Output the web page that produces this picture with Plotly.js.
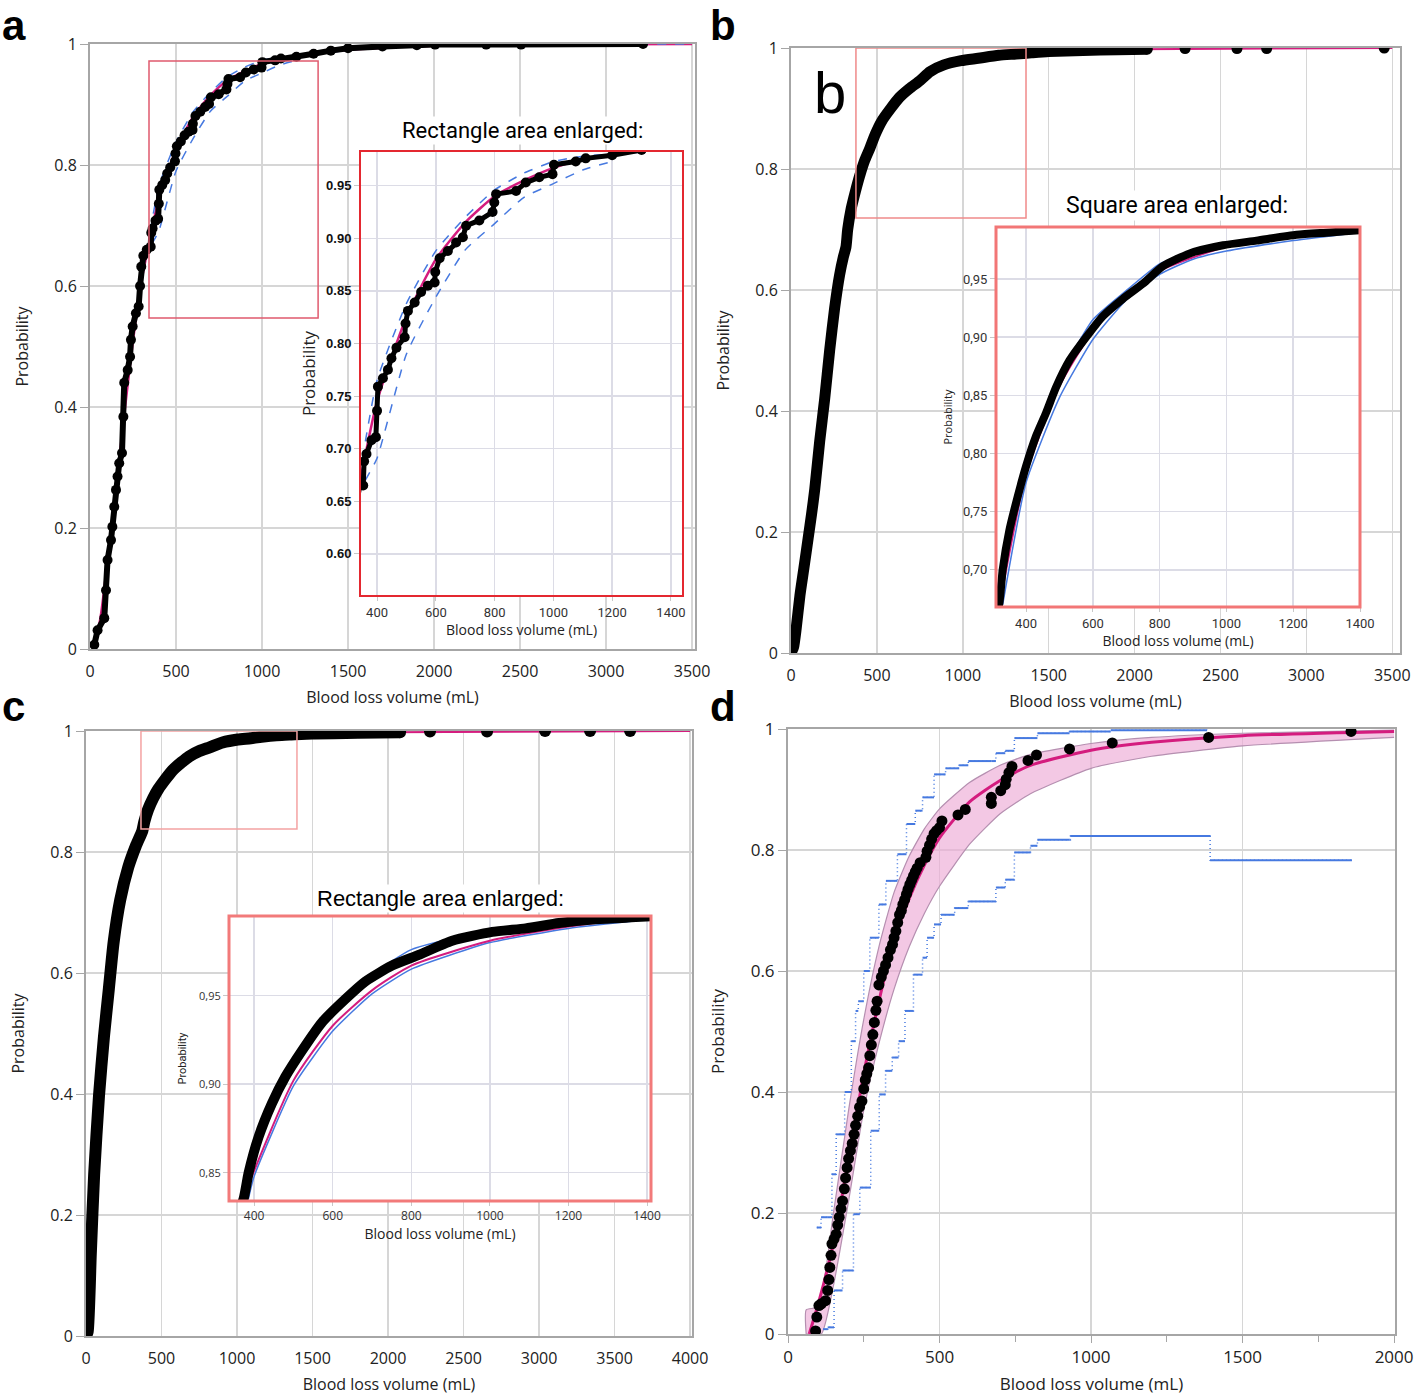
<!DOCTYPE html>
<html>
<head>
<meta charset="utf-8">
<script src="https://cdn.plot.ly/plotly-3.0.1.min.js"></script>
<style>
  body { margin: 0; background: #fff; }
  #chart { width: 1418px; height: 1400px; }
</style>
</head>
<body>
<div id="chart"></div>
<script>
// ---- tick labels ----
const probTicks = [0, 0.2, 0.4, 0.6, 0.8, 1];
const probLabels = ["0", "0.2", "0.4", "0.6", "0.8", "1"];
const insetXTicks = [400, 600, 800, 1000, 1200, 1400];
const aInsetYTicks = [0.60, 0.65, 0.70, 0.75, 0.80, 0.85, 0.90, 0.95];
const aInsetYLabels = ["0.60", "0.65", "0.70", "0.75", "0.80", "0.85", "0.90", "0.95"];
const bInsetYTicks = [0.70, 0.75, 0.80, 0.85, 0.90, 0.95];
const bInsetYLabels = ["0,70", "0,75", "0,80", "0,85", "0,90", "0,95"];
const cInsetYTicks = [0.85, 0.90, 0.95];
const cInsetYLabels = ["0,85", "0,90", "0,95"];

// ---- panel a ----
const aBlood = [25, 44, 83, 93, 102, 122, 130, 141, 151, 160, 170, 186, 194, 199, 219, 233, 238, 248, 267, 283,
  291, 298, 310, 330, 353, 356, 364, 381, 396, 400, 403, 420, 437, 449, 466, 494, 497, 505, 528, 550,
  573, 596, 598, 613, 641, 669, 692, 703, 748, 793, 799, 805, 873, 906, 952, 997, 1002, 1076, 1110, 1200,
  1300, 1400, 1500, 1700, 1900, 2006, 2303, 2506, 3215];
const aProb = [0.007, 0.031, 0.051, 0.097, 0.147, 0.18, 0.202, 0.235, 0.263, 0.285, 0.307, 0.324, 0.384, 0.44, 0.461, 0.483, 0.511, 0.533, 0.555, 0.566,
  0.60, 0.632, 0.65, 0.66, 0.665, 0.688, 0.695, 0.708, 0.711, 0.736, 0.759, 0.767, 0.775, 0.786, 0.796, 0.806, 0.819, 0.831, 0.839, 0.849,
  0.855, 0.858, 0.868, 0.881, 0.888, 0.896, 0.901, 0.912, 0.917, 0.925, 0.934, 0.942, 0.945, 0.953, 0.958, 0.961, 0.970, 0.973, 0.976, 0.979,
  0.984, 0.989, 0.993, 0.996, 0.998, 0.999, 0.999, 0.999, 1.0];
const aFitX = [20, 60, 100, 150, 200, 250, 300, 350, 400, 500, 600, 700, 800, 900, 1000, 1100, 1200, 1400, 1700, 2000, 2500, 3500];
const aFitP = [0, 0.05, 0.14, 0.26, 0.39, 0.51, 0.61, 0.68, 0.745, 0.825, 0.88, 0.915, 0.94, 0.955, 0.967, 0.975, 0.98, 0.988, 0.994, 0.997, 0.999, 1.0];
const aUpX = [350, 400, 500, 600, 700, 800, 900, 1000, 1100, 1300, 1500, 2000, 3500];
const aUpP = [0.69, 0.765, 0.838, 0.888, 0.92, 0.946, 0.962, 0.973, 0.978, 0.982, 0.99, 0.998, 1.0];
const aLoX = [360, 400, 500, 600, 700, 800, 900, 1000, 1100, 1200];
const aLoP = [0.67, 0.691, 0.79, 0.844, 0.889, 0.914, 0.939, 0.952, 0.965, 0.973];

// ---- panel b ----
const bBlood = [0, 15, 30, 52, 75, 100, 120, 138, 167, 196, 225, 254, 283, 305, 320, 330, 350, 375, 400, 430,
  460, 490, 530, 580, 630, 690, 750, 810, 890, 990, 1090, 1210, 1310, 1400, 1500, 1700, 1900, 2074, 2294, 2596,
  2769, 3453];
const bProb = [0, 0.01, 0.04, 0.095, 0.14, 0.19, 0.23, 0.27, 0.35, 0.42, 0.5, 0.57, 0.625, 0.655, 0.671, 0.70, 0.734, 0.763, 0.789, 0.815,
  0.835, 0.857, 0.880, 0.900, 0.918, 0.933, 0.946, 0.961, 0.972, 0.979, 0.983, 0.988, 0.990, 0.992, 0.994, 0.996, 0.997, 0.998, 0.999, 0.999,
  0.999, 1.0];
const bFitX = [0, 100, 200, 300, 320, 400, 500, 600, 700, 800, 1000, 1200, 1400, 2000, 3500];
const bFitP = [0, 0.18, 0.43, 0.63, 0.668, 0.782, 0.858, 0.905, 0.935, 0.957, 0.978, 0.988, 0.993, 0.998, 1.0];
const bUpX = [315, 400, 500, 600, 700, 800, 900, 1000, 1200, 1400];
const bUpP = [0.685, 0.797, 0.866, 0.915, 0.94, 0.963, 0.974, 0.98, 0.989, 0.993];
const bLoX = [330, 400, 500, 600, 700, 800, 900, 1000, 1200, 1400];
const bLoP = [0.67, 0.775, 0.848, 0.898, 0.932, 0.954, 0.967, 0.974, 0.983, 0.990];

// ---- panel c ----
const cBlood = [0, 11, 32, 54, 86, 119, 151, 183, 226, 280, 330, 373, 386, 411, 445, 479, 522, 573, 632, 683,
  751, 819, 904, 1006, 1091, 1176, 1261, 1346, 1500, 1800, 2080, 2278, 2656, 3040, 3338, 3603];
const cProb = [0, 0.007, 0.137, 0.267, 0.397, 0.495, 0.573, 0.651, 0.72, 0.775, 0.81, 0.835, 0.850, 0.870, 0.889, 0.904, 0.919, 0.935, 0.948, 0.958,
  0.967, 0.973, 0.981, 0.986, 0.988, 0.991, 0.993, 0.994, 0.996, 0.997, 0.998, 0.999, 0.999, 1.0, 1.0, 1.0];
const cFitX = [0, 50, 100, 200, 300, 380, 500, 600, 700, 800, 1000, 1200, 1400, 2000, 4000];
const cFitP = [0, 0.22, 0.43, 0.68, 0.79, 0.84, 0.902, 0.933, 0.953, 0.967, 0.981, 0.989, 0.994, 0.998, 1.0];
const cUpX = [373, 400, 500, 600, 700, 800, 1000, 1200, 1400];
const cUpP = [0.84, 0.862, 0.915, 0.944, 0.962, 0.976, 0.987, 0.992, 0.995];
const cLoX = [385, 400, 500, 600, 700, 800, 1000, 1200, 1400];
const cLoP = [0.835, 0.848, 0.899, 0.93, 0.951, 0.965, 0.98, 0.988, 0.993];

// ---- panel d ----
const dBlood = [91, 95, 102, 110, 124, 131, 135, 138, 142, 145, 152, 159, 164, 169, 175, 180, 186, 190, 195, 200,
  206, 212, 218, 223, 230, 236, 244, 250, 255, 260, 266, 270, 275, 280, 285, 290, 294, 300, 308, 315,
  322, 330, 338, 345, 350, 356, 362, 368, 374, 379, 385, 391, 396, 402, 408, 414, 420, 426, 436, 455,
  459, 467, 474, 482, 490, 500, 508, 561, 585, 671, 671, 702, 717, 720, 729, 739, 792, 820, 929, 1070,
  1388, 1858];
const dProb = [0.005, 0.028, 0.047, 0.05, 0.055, 0.072, 0.09, 0.11, 0.13, 0.149, 0.157, 0.165, 0.18, 0.193, 0.207, 0.22, 0.24, 0.258, 0.275, 0.29,
  0.303, 0.315, 0.33, 0.345, 0.36, 0.375, 0.385, 0.405, 0.42, 0.43, 0.44, 0.46, 0.478, 0.495, 0.515, 0.535, 0.55, 0.577, 0.59, 0.60,
  0.61, 0.622, 0.635, 0.644, 0.655, 0.666, 0.68, 0.693, 0.70, 0.71, 0.718, 0.727, 0.735, 0.743, 0.75, 0.757, 0.764, 0.770, 0.779, 0.788,
  0.798, 0.808, 0.818, 0.827, 0.832, 0.837, 0.848, 0.858, 0.867, 0.877, 0.887, 0.898, 0.908, 0.917, 0.928, 0.938, 0.948, 0.957, 0.967, 0.977,
  0.986, 0.996];
const dFitX = [70, 100, 150, 200, 250, 300, 350, 400, 450, 500, 600, 700, 800, 1000, 1200, 1500, 2000];
const dFitP = [0, 0.05, 0.15, 0.29, 0.43, 0.55, 0.65, 0.72, 0.775, 0.82, 0.88, 0.915, 0.94, 0.965, 0.978, 0.989, 0.996];
const dBandUpX = [60, 60, 100, 150, 200, 250, 300, 350, 400, 450, 500, 600, 700, 800, 1000, 1200, 1500, 2000];
const dBandUpP = [0, 0.04, 0.045, 0.2, 0.37, 0.52, 0.64, 0.73, 0.79, 0.835, 0.868, 0.912, 0.94, 0.958, 0.976, 0.986, 0.993, 0.998];
const dBandLoX = [60, 110, 150, 200, 250, 300, 350, 400, 450, 500, 600, 700, 800, 1000, 1200, 1500, 2000];
const dBandLoP = [0, 0, 0.08, 0.22, 0.37, 0.48, 0.57, 0.64, 0.695, 0.74, 0.81, 0.86, 0.893, 0.935, 0.955, 0.972, 0.986];
const dStepUpX = [95, 109, 131, 145, 159, 187, 209, 223, 232, 250, 270, 300, 323, 361, 391, 420, 444, 482, 520, 565,
  595, 671, 686, 717, 747, 823, 929, 1065, 1383];
const dStepUpP = [0.176, 0.193, 0.193, 0.264, 0.33, 0.40, 0.484, 0.534, 0.55, 0.6, 0.655, 0.71, 0.749, 0.793, 0.843, 0.865, 0.887, 0.925, 0.935, 0.94,
  0.947, 0.947, 0.96, 0.964, 0.985, 0.993, 0.996, 0.998, 0.999];
const dStepLoX = [116, 131, 152, 180, 216, 237, 273, 301, 322, 344, 365, 386, 414, 444, 459, 482, 505, 550, 595, 671,
  686, 717, 747, 800, 823, 929, 932, 1393, 1393, 1861];
const dStepLoP = [0.008, 0.011, 0.072, 0.105, 0.198, 0.242, 0.336, 0.396, 0.435, 0.457, 0.484, 0.534, 0.594, 0.622, 0.655, 0.677, 0.693, 0.704, 0.715, 0.715,
  0.738, 0.751, 0.796, 0.807, 0.817, 0.817, 0.823, 0.823, 0.783, 0.783];

// page is 1418 x 1400 with no margins, so pixel positions turn into paper fractions
const W = 1418, H = 1400;
function fx(p) { return p / W; }
function fy(p) { return 1 - p / H; }

const FIT = "#d41c7e";
const BLUE = "#4679e0";
const GRID = "#d6d6d6";
const FRAME = "#a6a6a6";
const NARROW = "Roboto";

function fitTrace(xa, ya, x, y, w) {
  return { x: x, y: y, xaxis: xa, yaxis: ya, mode: "lines", line: { color: FIT, width: w, shape: "spline", smoothing: 0.6 }, hoverinfo: "skip" };
}
function blueTrace(xa, ya, x, y, dash) {
  return { x: x, y: y, xaxis: xa, yaxis: ya, mode: "lines", line: { color: BLUE, width: 1.5, dash: dash, shape: "spline", smoothing: 0.5 }, hoverinfo: "skip" };
}
function dotsTrace(xa, ya, x, y, lineW, dot, smooth) {
  return {
    x: x, y: y, xaxis: xa, yaxis: ya,
    mode: dot > 0 ? "lines+markers" : "lines",
    line: { color: "#000", width: lineW, shape: smooth ? "spline" : "linear", smoothing: 0.6 },
    marker: { color: "#000", size: dot },
    hoverinfo: "skip"
  };
}
function looseDots(xa, ya, x, y, size) {
  return { x: x, y: y, xaxis: xa, yaxis: ya, mode: "markers", marker: { color: "#000", size: size }, hoverinfo: "skip" };
}
// the flat part of each step drawn solid, the risers are left to the dotted trace
function stepFlats(xs, ys) {
  const sx = [], sy = [];
  for (let i = 0; i < xs.length - 1; i++) {
    sx.push(xs[i], xs[i + 1], null);
    sy.push(ys[i], ys[i], null);
  }
  return { x: sx, y: sy };
}

function mainX(left, right, range, anchor, size) {
  return {
    domain: [fx(left), fx(right)], range: range, anchor: anchor,
    tick0: 0, dtick: 500, ticks: "outside", ticklen: 7, tickcolor: "rgba(0,0,0,0)",
    showgrid: true, gridcolor: GRID, gridwidth: 1.5, zeroline: false,
    showline: true, linecolor: FRAME, linewidth: 2, mirror: true,
    tickfont: { family: "Open Sans", size: size, color: "#222" },
    title: { text: "Blood loss volume (mL)", font: { family: "Open Sans", size: size, color: "#222" }, standoff: 11 }
  };
}
function mainY(top, bottom, anchor, size) {
  return {
    domain: [fy(bottom), fy(top)], range: [0, 1], anchor: anchor,
    tickvals: probTicks, ticktext: probLabels, ticks: "outside", ticklen: 8, tickcolor: FRAME,
    showgrid: true, gridcolor: GRID, gridwidth: 1.5, zeroline: false,
    showline: true, linecolor: FRAME, linewidth: 2, mirror: true,
    tickfont: { family: "Open Sans", size: size, color: "#222" },
    title: { text: "Probability", font: { family: "Open Sans", size: size, color: "#222" }, standoff: 22 }
  };
}
function insetX(left, right, range, anchor, tickFont, titleFont) {
  return {
    domain: [fx(left), fx(right)], range: range, anchor: anchor,
    tickvals: insetXTicks, ticks: "outside", ticklen: 4, tickcolor: "#c8c8c8",
    showgrid: true, gridcolor: "#dcdce6", gridwidth: 1.5, zeroline: false, showline: false,
    tickfont: tickFont,
    title: { text: "Blood loss volume (mL)", font: titleFont, standoff: 3 }
  };
}
function insetY(top, bottom, range, anchor, vals, labels, tickFont, titleFont, standoff) {
  return {
    domain: [fy(bottom), fy(top)], range: range, anchor: anchor,
    tickvals: vals, ticktext: labels, ticks: "outside", ticklen: 5, tickcolor: "#c8c8c8",
    showgrid: true, gridcolor: "#dcdce6", gridwidth: 1.5, zeroline: false, showline: false,
    tickfont: tickFont,
    title: { text: "Probability", font: titleFont, standoff: standoff }
  };
}
function frame(left, top, right, bottom, color, w) {
  return { type: "rect", xref: "paper", yref: "paper", x0: fx(left), x1: fx(right), y0: fy(bottom), y1: fy(top),
    line: { color: color, width: w }, layer: "above" };
}
function label(text, x, y, size, family, bg) {
  return { text: text, xref: "paper", yref: "paper", x: fx(x), y: fy(y), xanchor: "center", yanchor: "middle",
    showarrow: false, bgcolor: bg || "rgba(0,0,0,0)", font: { family: family, size: size, color: "#000" } };
}
function panelLetter(text, left, top) {
  return { text: "<b>" + text + "</b>", xref: "paper", yref: "paper", x: fx(left), y: fy(top), xanchor: "left", yanchor: "top",
    showarrow: false, borderpad: 0, font: { family: "Liberation Sans", size: 42, color: "#000" } };
}

const upFlats = stepFlats(dStepUpX, dStepUpP);
const loFlats = stepFlats(dStepLoX, dStepLoP);

const traces = [
  // a main + inset
  fitTrace("x", "y", aFitX, aFitP, 2.5),
  blueTrace("x", "y", aUpX, aUpP, "dash"),
  blueTrace("x", "y", aLoX, aLoP, "dash"),
  dotsTrace("x", "y", aBlood, aProb, 6, 10, false),
  fitTrace("x2", "y2", aFitX, aFitP, 2.5),
  blueTrace("x2", "y2", aUpX, aUpP, "dash"),
  blueTrace("x2", "y2", aLoX, aLoP, "dash"),
  dotsTrace("x2", "y2", aBlood, aProb, 5, 10, false),
  // b main + inset: dense band up to ~2000 mL, loose points after
  fitTrace("x3", "y3", bFitX, bFitP, 2),
  dotsTrace("x3", "y3", bBlood.slice(0, 38), bProb.slice(0, 38), 11, 0, true),
  looseDots("x3", "y3", bBlood.slice(37), bProb.slice(37), 11),
  fitTrace("x4", "y4", bFitX, bFitP, 2),
  blueTrace("x4", "y4", bUpX, bUpP, "solid"),
  blueTrace("x4", "y4", bLoX, bLoP, "solid"),
  dotsTrace("x4", "y4", bBlood, bProb, 8, 0, true),
  // c main + inset
  fitTrace("x5", "y5", cFitX, cFitP, 2),
  dotsTrace("x5", "y5", cBlood.slice(0, 31), cProb.slice(0, 31), 12, 0, true),
  looseDots("x5", "y5", cBlood.slice(30), cProb.slice(30), 12),
  blueTrace("x6", "y6", cUpX, cUpP, "solid"),
  blueTrace("x6", "y6", cLoX, cLoP, "solid"),
  fitTrace("x6", "y6", cFitX, cFitP, 2),
  dotsTrace("x6", "y6", cBlood, cProb, 10, 0, true),
  // d
  { x: dBandLoX, y: dBandLoP, xaxis: "x7", yaxis: "y7", mode: "lines", line: { color: "#b58fb0", width: 1.2, shape: "spline", smoothing: 0.5 }, hoverinfo: "skip" },
  { x: dBandUpX, y: dBandUpP, xaxis: "x7", yaxis: "y7", mode: "lines", fill: "tonexty", fillcolor: "rgba(236,170,214,0.65)",
    line: { color: "#b58fb0", width: 1.2, shape: "spline", smoothing: 0.5 }, hoverinfo: "skip" },
  fitTrace("x7", "y7", dFitX, dFitP, 3),
  { x: dStepUpX, y: dStepUpP, xaxis: "x7", yaxis: "y7", mode: "lines", line: { color: BLUE, width: 1.5, shape: "hv", dash: "1px,3px" }, hoverinfo: "skip" },
  { x: dStepLoX, y: dStepLoP, xaxis: "x7", yaxis: "y7", mode: "lines", line: { color: BLUE, width: 1.5, shape: "hv", dash: "1px,3px" }, hoverinfo: "skip" },
  { x: upFlats.x, y: upFlats.y, xaxis: "x7", yaxis: "y7", mode: "lines", connectgaps: false, line: { color: BLUE, width: 2 }, hoverinfo: "skip" },
  { x: loFlats.x, y: loFlats.y, xaxis: "x7", yaxis: "y7", mode: "lines", connectgaps: false, line: { color: BLUE, width: 2 }, hoverinfo: "skip" },
  { x: dBlood, y: dProb, xaxis: "x7", yaxis: "y7", mode: "markers", marker: { color: "#000", size: 11 }, hoverinfo: "skip" }
];

const boldTick = { family: "Liberation Sans", size: 13, color: "#111", weight: "bold" };
const narrowTick = { family: NARROW, size: 13, color: "#333" };
const smallTitle = { family: "Open Sans", size: 14, color: "#222" };

const layout = {
  width: W, height: H,
  margin: { l: 0, r: 0, t: 0, b: 0 },
  paper_bgcolor: "#fff", plot_bgcolor: "#fff",
  showlegend: false,
  xaxis: mainX(90, 695, [0, 3517], "y", 16),
  yaxis: mainY(44, 649, "x", 16),
  xaxis2: insetX(360, 683, [342, 1441], "y2", narrowTick, smallTitle),
  yaxis2: insetY(151, 596, [0.560, 0.983], "x2", aInsetYTicks, aInsetYLabels, boldTick,
    { family: "Open Sans", size: 17, color: "#222" }, 6),
  xaxis3: mainX(791, 1400, [0, 3545], "y3", 16),
  yaxis3: mainY(48, 653, "x3", 16),
  xaxis4: insetX(996, 1360, [310, 1400], "y4", narrowTick, smallTitle),
  yaxis4: insetY(227, 607, [0.668, 0.9947], "x4", bInsetYTicks, bInsetYLabels, narrowTick,
    { family: "Open Sans", size: 11, color: "#222" }, 8),
  xaxis5: mainX(86, 692, [0, 4013], "y5", 16),
  yaxis5: mainY(731, 1336, "x5", 16),
  xaxis6: insetX(229, 651, [336, 1410], "y6", { family: "Open Sans", size: 12, color: "#333" }, smallTitle),
  yaxis6: insetY(916, 1201, [0.834, 0.995], "x6", cInsetYTicks, cInsetYLabels, { family: "Open Sans", size: 11, color: "#333" },
    { family: NARROW, size: 11, color: "#222" }, 10),
  xaxis7: Object.assign(mainX(788, 1395, [0, 2003], "y7", 17), {
    ticks: "outside", tickcolor: FRAME, ticklen: 7,
    minor: { dtick: 250, ticks: "outside", ticklen: 6, tickcolor: FRAME, showgrid: false }
  }),
  yaxis7: mainY(729, 1334, "x7", 17),
  shapes: [
    // zoom boxes on the main panels
    { type: "rect", xref: "x", yref: "y", x0: 343, x1: 1326, y0: 0.547, y1: 0.972, line: { color: "#e05a6e", width: 1.5 } },
    { type: "rect", xref: "x3", yref: "y3", x0: 378, x1: 1368, y0: 0.719, y1: 1.0, line: { color: "#f08a8a", width: 1.5 } },
    { type: "rect", xref: "x5", yref: "y5", x0: 364, x1: 1397, y0: 0.838, y1: 1.0, line: { color: "#f4a2a2", width: 1.5 } },
    // inset frames
    frame(360, 151, 683, 596, "#e42830", 2),
    frame(996, 227, 1360, 607, "#f27676", 3),
    frame(229, 916, 651, 1201, "#f27a7a", 3)
  ],
  annotations: [
    panelLetter("a", 1, 1),
    panelLetter("b", 709, 1),
    panelLetter("c", 1, 682),
    panelLetter("d", 709, 682),
    label("b", 830, 92, 58, "Liberation Sans", "#fff"),
    label("Rectangle area enlarged:", 522, 130, 22, NARROW, "#fff"),
    label("Square area enlarged:", 1177, 205, 23, NARROW, "#fff"),
    label("Rectangle area enlarged:", 440, 898, 22, "Liberation Sans", "#fff")
  ]
};

Plotly.newPlot("chart", traces, layout, { staticPlot: true, displayModeBar: false });
</script>
</body>
</html>
